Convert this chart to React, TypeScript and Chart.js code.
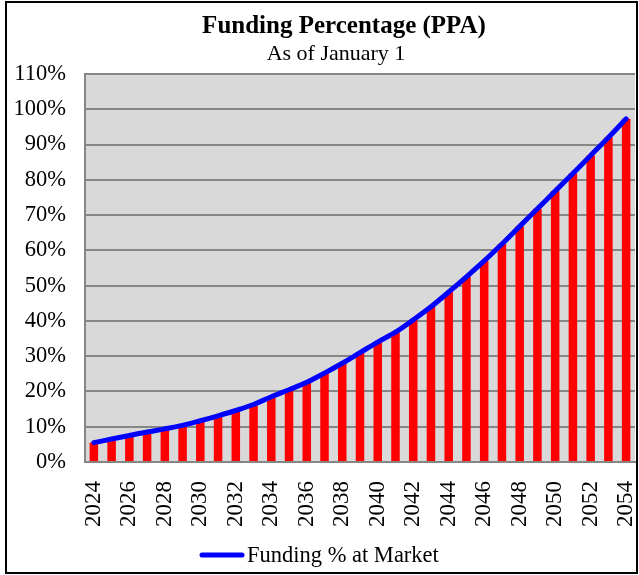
import React, { useEffect, useRef } from "react";
import { Chart, registerables } from "chart.js";

Chart.register(...registerables);

const FONT = "'Liberation Serif', 'Times New Roman', serif";

const years = [
  "2024", "2025", "2026", "2027", "2028", "2029", "2030", "2031", "2032", "2033",
  "2034", "2035", "2036", "2037", "2038", "2039", "2040", "2041", "2042", "2043",
  "2044", "2045", "2046", "2047", "2048", "2049", "2050", "2051", "2052", "2053", "2054",
];

const fundingPct = [
  5.5, 6.5, 7.5, 8.5, 9.4, 10.4, 11.7, 13.1, 14.6, 16.3,
  18.5, 20.5, 22.6, 25.2, 28.0, 31.0, 34.0, 36.8, 40.3, 44.0,
  48.2, 52.5, 57.0, 61.8, 66.8, 71.8, 76.8, 81.8, 86.9, 92.0, 97.3,
];

const titleText = "Funding Percentage (PPA)";
const subtitleText = "As of January 1";
const lineLabel = "Funding % at Market";

export default function App() {
  const ref = useRef<HTMLCanvasElement>(null);

  useEffect(() => {
    const bg = {
      id: "plotBg",
      beforeDraw(chart: any) {
        const { ctx, chartArea: a } = chart;
        ctx.save();
        ctx.fillStyle = "#d9d9d9";
        ctx.fillRect(a.left, a.top, a.right - a.left, a.bottom - a.top);
        ctx.restore();
      },
    };

    const texts = {
      id: "texts",
      afterDraw(chart: any) {
        const ctx = chart.ctx;
        ctx.save();
        ctx.fillStyle = "#000";
        ctx.textAlign = "center";
        ctx.textBaseline = "alphabetic";
        ctx.font = `bold 25px ${FONT}`;
        ctx.fillText(titleText, 344, 33);
        ctx.font = `22px ${FONT}`;
        ctx.fillText(subtitleText, 336, 60);

        // legend
        const ds = chart.data.datasets[0];
        ctx.strokeStyle = ds.borderColor;
        ctx.lineWidth = 5;
        ctx.lineCap = "round";
        ctx.beginPath();
        ctx.moveTo(202, 555);
        ctx.lineTo(242, 555);
        ctx.stroke();
        ctx.textAlign = "left";
        ctx.font = `22.5px ${FONT}`;
        ctx.fillText(ds.label, 247, 562);
        ctx.restore();
      },
    };

    const chart = new Chart(ref.current!, {
      type: "bar",
      data: {
        labels: years,
        datasets: [
          {
            type: "line",
            label: lineLabel,
            data: fundingPct,
            borderColor: "#0000ff",
            backgroundColor: "#0000ff",
            borderWidth: 5,
            pointRadius: 0,
            tension: 0.35,
            borderCapStyle: "round",
            borderJoinStyle: "round",
            order: 0,
          } as any,
          {
            type: "bar",
            label: "Funding %",
            data: fundingPct,
            backgroundColor: "#ff0000",
            barPercentage: 0.48,
            categoryPercentage: 1,
            order: 1,
          } as any,
        ],
      },
      options: {
        responsive: false,
        animation: false,
        layout: { padding: { top: 74, right: 4, left: 0, bottom: 0 } },
        plugins: {
          legend: { display: false },
          title: { display: false },
          tooltip: { enabled: false },
        },
        scales: {
          x: {
            grid: { display: false, drawTicks: false },
            border: { display: true, color: "#868686", width: 2 },
            ticks: {
              autoSkip: false,
              minRotation: 90,
              maxRotation: 90,
              padding: 19,
              color: "#000",
              font: { family: FONT, size: 23 },
              callback: (_v: any, i: number) => (i % 2 === 0 ? years[i] : ""),
            },
            afterFit: (s: any) => {
              s.height = 113;
              s.paddingLeft = 0;
              s.paddingRight = 0;
            },
          },
          y: {
            min: 0,
            max: 110,
            ticks: {
              stepSize: 10,
              padding: 19,
              color: "#000",
              font: { family: FONT, size: 22.5 },
              callback: (v: any) => `${v}%`,
            },
            grid: { color: "#868686", lineWidth: 2, drawTicks: false },
            border: { display: true, color: "#868686", width: 2 },
            afterFit: (s: any) => {
              s.width = 85;
            },
          },
        },
      } as any,
      plugins: [bg, texts],
    });
    return () => chart.destroy();
  }, []);

  return (
    <div style={{ position: "absolute", left: 0, top: 0, width: 639, height: 575, background: "#fff" }}>
      <canvas ref={ref} width={639} height={575} style={{ display: "block" }} />
      <div
        style={{
          position: "absolute",
          left: 5,
          top: 1,
          width: 633,
          height: 573,
          border: "2px solid #000",
          boxSizing: "border-box",
          pointerEvents: "none",
        }}
      />
    </div>
  );
}
